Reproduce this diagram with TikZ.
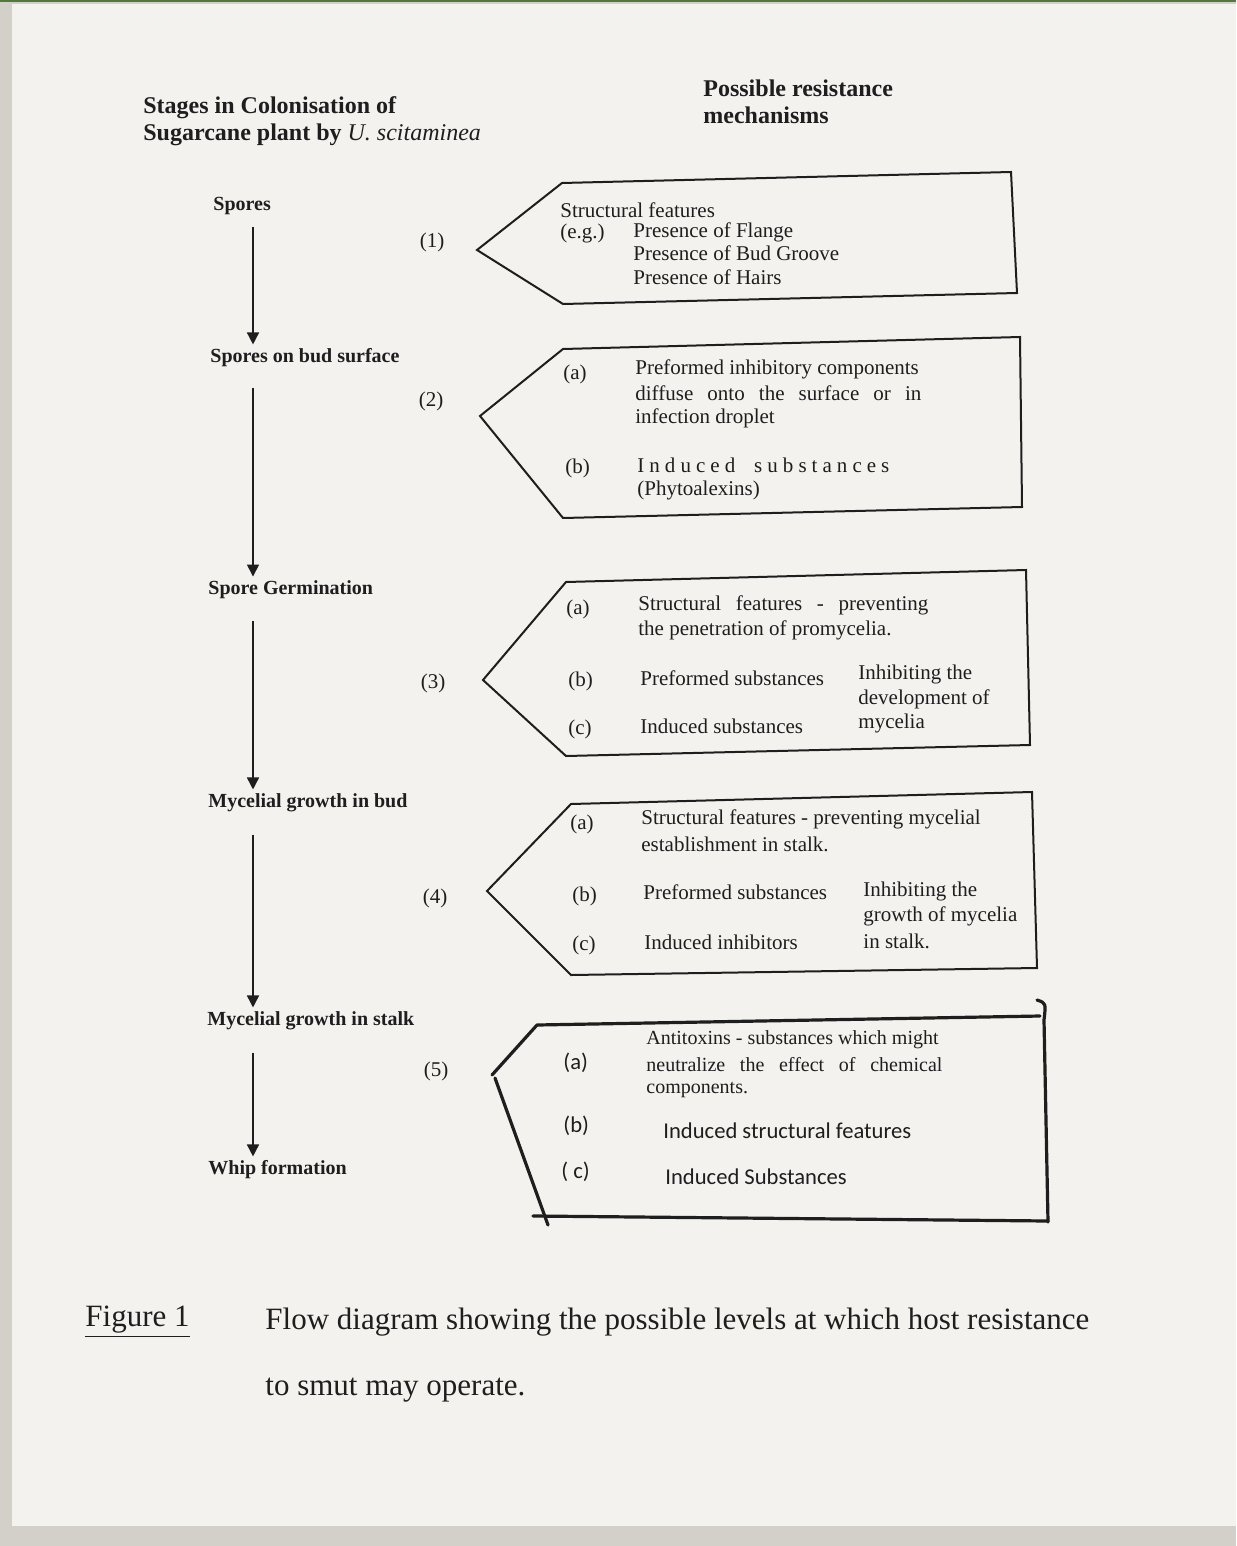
\documentclass[tikz,border=0pt]{standalone}
\usepackage{fontspec}
\setmainfont{Liberation Serif}
\newfontfamily\calfont{Carlito}
\newfontfamily\spacedfont[LetterSpace=24]{Liberation Serif}
\usetikzlibrary{arrows.meta}
\definecolor{paper}{HTML}{F4F2EF}
\definecolor{rim}{HTML}{D3CFC9}
\definecolor{ink}{HTML}{1E1E1E}
\definecolor{topline}{HTML}{4F7A3A}
\begin{document}
\begin{tikzpicture}[x=0.5pt,y=-0.5pt,
  stage/.style={font=\bfseries\fontsize{10}{12}\selectfont, anchor=west, inner sep=1pt, text=ink, yshift=-1pt},
  head/.style={font=\bfseries\fontsize{12}{14}\selectfont, anchor=west, inner sep=0pt, text=ink, yshift=-1pt},
  txt/.style={font=\fontsize{10.5}{12}\selectfont, anchor=west, inner sep=0pt, text=ink, yshift=-1pt},
  txtsm/.style={font=\fontsize{10}{12}\selectfont, anchor=west, inner sep=0pt, text=ink, yshift=-1pt},
  caltxt/.style={font=\calfont\fontsize{11.3}{13}\selectfont, anchor=west, inner sep=0pt, text=ink, yshift=-1pt},
  num/.style={font=\fontsize{10.5}{12}\selectfont, anchor=center, inner sep=0pt, text=ink, yshift=-1pt},
  captxt/.style={font=\fontsize{15.5}{18}\selectfont, anchor=west, inner sep=0pt, text=ink, yshift=-2pt},
  box/.style={draw=ink, line width=1pt, line join=miter},
  boxhand/.style={draw=ink, line width=1.6pt, line join=round, line cap=round},
  arr/.style={draw=ink, -{Triangle[width=6pt,length=6pt]}, line width=0.8pt, shorten <=5pt, shorten >=1pt}
]
% background
\useasboundingbox (0,0) rectangle (1236,1546);
\fill[rim] (0,0) rectangle (1236,1546);
\fill[paper] (12,4) rectangle (1236,1526);
\fill[topline] (0,0) rectangle (1236,2.5);

% headings
\node[head] (h1a) at (143,106) {Stages in Colonisation of};
\node[head] (h1b) at (143,133) {Sugarcane plant by {\mdseries\itshape U. scitaminea}};
\node[head] (h2a) at (703,86) {Possible resistance};
\node[head] (h2b) at (703,113) {mechanisms};

% stages
\node[stage] (s1) at (211,204) {Spores};
\node[stage] (s2) at (208,356) {Spores on bud surface};
\node[stage] (s3) at (206,588) {Spore Germination};
\node[stage] (s4) at (206,801) {Mycelial growth in bud};
\node[stage] (s5) at (205,1019) {Mycelial growth in stalk};
\node[stage] (s6) at (206,1168) {Whip formation};
\coordinate (ax) at (253,0);
\draw[arr] (ax |- s1.south) -- (ax |- s2.north);
\draw[arr, shorten <=9pt] (ax |- s2.south) -- (ax |- s3.north);
\draw[arr, shorten <=10pt] (ax |- s3.south) -- (ax |- s4.north);
\draw[arr, shorten <=10pt] (ax |- s4.south) -- (ax |- s5.north);
\draw[arr, shorten <=10pt] (ax |- s5.south) -- (ax |- s6.north);

% numbers
\node[num] (n1) at (432,240) {(1)};
\node[num] (n2) at (431,399) {(2)};
\node[num] (n3) at (433,681) {(3)};
\node[num] (n4) at (435,896) {(4)};
\node[num] (n5) at (436,1069) {(5)};

% box 1
\draw[box] (562,183) -- (1011,172) -- (1017,293) -- (563,304) -- (477,250) -- cycle;
\node[txt] (b1t) at (560,208) {Structural features};
\node[txt] (b1e) at (560,231) {(e.g.)};
\node[txt] (b1x) at (633,230) {Presence of Flange};
\node[txt] (b1y) at (633,251) {Presence of Bud Groove};
\node[txt] (b1z) at (633,275) {Presence of Hairs};

% box 2
\draw[box] (563,349) -- (1020,337) -- (1022,507) -- (563,518) -- (480,416) -- cycle;
\node[txt] (b2a) at (563,372) {(a)};
\node[txt] (b2a1) at (635,367) {Preformed inhibitory components};
\node[txt] (b2a2) at (635,391) {\makebox[143pt][s]{diffuse onto the surface or in}};
\node[txt] (b2a3) at (635,416) {infection droplet};
\node[txt] (b2b) at (565,466) {(b)};
\node[txt] (b2b1) at (637,463) {\makebox[126pt][l]{\spacedfont Induced\hfill substances}};
\node[txt] (b2b2) at (637,488) {(Phytoalexins)};

% box 3
\draw[box] (566,582) -- (1026,570) -- (1030,745) -- (566,756) -- (483,680) -- cycle;
\node[txt] (b3a) at (566,607) {(a)};
\node[txt] (b3a1) at (638,603) {\makebox[145pt][s]{Structural features - preventing}};
\node[txt] (b3a2) at (638,628) {the penetration of promycelia.};
\node[txt] (b3b) at (568,679) {(b)};
\node[txt] (b3b1) at (640,676) {Preformed substances};
\node[txt] (b3r1) at (858,672) {Inhibiting the};
\node[txt] (b3r2) at (858,697) {development of};
\node[txt] (b3r3) at (858,721) {mycelia};
\node[txt] (b3c) at (568,727) {(c)};
\node[txt] (b3c1) at (640,724) {Induced substances};

% box 4
\draw[box] (571,804) -- (1032,792) -- (1037,968) -- (571,975) -- (487,891) -- cycle;
\node[txt] (b4a) at (570,822) {(a)};
\node[txt] (b4a1) at (641,817) {Structural features - preventing mycelial};
\node[txt] (b4a2) at (641,842) {establishment in stalk.};
\node[txt] (b4b) at (572,894) {(b)};
\node[txt] (b4b1) at (643,890) {Preformed substances};
\node[txt] (b4r1) at (863,889) {Inhibiting the};
\node[txt] (b4r2) at (863,914) {growth of mycelia};
\node[txt] (b4r3) at (863,939) {in stalk.};
\node[txt] (b4c) at (572,943) {(c)};
\node[txt] (b4c1) at (644,940) {Induced inhibitors};

% box 5 (hand drawn)
\draw[boxhand] (492,1075) -- (537,1025) -- (1040,1016);
\draw[boxhand] (495,1078) -- (548,1225);
\draw[boxhand] (533,1216) -- (1048,1221);
\draw[boxhand] (1037,1000) .. controls (1046,1003) .. (1044,1020) -- (1048,1222);
\node[caltxt] (b5a) at (563,1061) {(a)};
\node[txtsm] (b5a1) at (646,1038) {Antitoxins - substances which might};
\node[txtsm] (b5a2) at (646,1063) {\makebox[148pt][s]{neutralize the effect of chemical}};
\node[txtsm] (b5a3) at (646,1088) {components.};
\node[caltxt] (b5b) at (563,1124) {(b)};
\node[caltxt] (b5b1) at (663,1129) {Induced structural features};
\node[caltxt] (b5c) at (561,1170) {( c)};
\node[caltxt] (b5c1) at (665,1175) {Induced Substances};

% caption
\node[captxt] (fig) at (85,1318) {\underline{Figure 1}};
\node[captxt] (c1) at (265,1318) {Flow diagram showing the possible levels at which host resistance};
\node[captxt] (c2) at (265,1386) {to smut may operate.};
\end{tikzpicture}
\end{document}
